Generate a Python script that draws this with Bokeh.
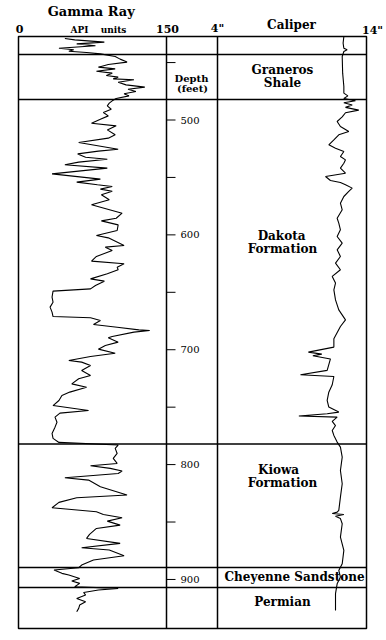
from bokeh.plotting import figure
from bokeh.models import Range1d, ColumnDataSource
from bokeh.core.properties import value
from bokeh.embed import file_html
from bokeh.resources import INLINE

# ---------------- data ----------------
gamma_depth = [429.0, 430.2, 432.2, 433.7, 435.4, 437.5, 438.9, 440.1, 441.2, 442.4,
               444.7, 447.0, 449.6, 451.7, 454.0, 455.5, 457.5, 459.2, 461.3, 462.7,
               464.2, 465.0, 467.1, 469.4, 471.4, 473.2, 475.2, 477.2, 479.0, 481.3,
               483.3, 485.3, 487.7, 490.6, 493.5, 496.4, 499.3, 502.8, 505.1, 508.6,
               512.9, 515.8, 519.6, 525.4, 527.1, 529.5, 532.4, 534.1, 536.7, 539.0,
               541.9, 546.9, 551.5, 554.1, 556.4, 557.9, 560.2, 562.0, 565.1, 569.5,
               573.8, 581.1, 585.5, 587.8, 591.3, 596.2, 600.6, 602.6, 609.3, 610.7,
               613.6, 618.8, 622.9, 625.2, 628.1, 630.4, 633.9, 638.3, 640.3, 644.1,
               647.0, 649.0, 654.2, 658.6, 662.9, 667.3, 671.1, 672.2, 674.6, 678.0,
               680.4, 682.7, 683.3, 684.7, 688.5, 689.6, 693.4, 696.3, 699.5, 703.0,
               705.9, 709.4, 710.8, 713.7, 718.1, 722.4, 725.3, 729.7, 732.6, 736.9,
               739.8, 744.2, 748.6, 752.9, 755.2, 758.7, 763.1, 767.4, 772.9, 777.2,
               780.7, 783.0, 785.9, 790.3, 794.6, 799.0, 801.0, 803.3, 805.6, 807.7,
               811.4, 813.5, 819.3, 826.5, 828.9, 832.9, 837.6, 841.1, 843.4, 846.3,
               849.2, 852.7, 855.6, 860.8, 864.3, 868.6, 872.4, 874.4, 879.4, 883.1,
               887.5, 889.8, 891.8, 894.7, 896.2, 899.1, 901.4, 903.4, 906.3, 907.8,
               909.2, 911.3, 913.6, 916.5, 919.4, 922.3, 925.2, 928.1]
gamma_api = [47, 57, 87, 59, 78, 41, 56, 51, 69, 83,
             98, 103, 110, 91, 81, 98, 79, 95, 89, 101,
             96, 117, 101, 109, 128, 111, 119, 107, 112, 99,
             95, 92, 90, 94, 86, 91, 83, 74, 99, 90,
             98, 91, 61, 101, 81, 60, 68, 90, 61, 47,
             90, 34, 83, 59, 80, 95, 83, 95, 84, 92,
             74, 105, 99, 84, 101, 100, 79, 91, 107, 88,
             95, 79, 74, 107, 100, 101, 90, 73, 87, 78,
             73, 35, 34, 35, 32, 34, 35, 73, 83, 76,
             100, 122, 133, 117, 95, 91, 101, 88, 81, 98,
             73, 51, 64, 73, 64, 73, 61, 54, 69, 52,
             44, 41, 35, 71, 42, 37, 39, 37, 34, 35,
             41, 101, 98, 100, 96, 100, 73, 93, 105, 101,
             47, 71, 83, 110, 59, 41, 34, 79, 86, 105,
             90, 103, 79, 72, 69, 103, 64, 92, 107, 76,
             64, 61, 36, 44, 51, 62, 54, 62, 57, 101,
             81, 66, 68, 59, 68, 62, 61, 59]

cal_depth = [427.3, 433.1, 437.5, 438.9, 440.4, 444.7, 459.2, 470.8, 476.6, 479.0,
             481.3, 483.3, 485.0, 487.0, 489.0, 491.4, 493.7, 497.3, 501.3, 505.7,
             510.0, 512.9, 517.3, 521.6, 524.5, 527.4, 531.8, 534.7, 537.6, 541.9,
             546.3, 549.2, 552.7, 554.4, 556.4, 559.3, 562.2, 566.6, 572.4, 578.2,
             585.5, 589.8, 595.6, 601.4, 607.2, 613.0, 618.8, 624.6, 630.4, 636.2,
             642.0, 647.9, 656.6, 665.3, 674.0, 679.8, 690.5, 697.7, 702.1, 703.8,
             705.3, 708.0, 718.0, 721.8, 723.3, 730.5, 737.0, 744.1, 749.9, 754.3,
             755.7, 757.7, 758.7, 762.4, 766.0, 770.3, 774.6, 780.4, 784.8, 793.5,
             805.1, 816.7, 828.3, 839.9, 841.4, 842.6, 843.4, 845.0, 847.0, 851.5,
             863.1, 874.7, 886.3, 892.1, 897.9, 903.8, 912.4, 918.0, 927.0]
cal_in = [12.48, 12.43, 12.48, 12.70, 12.48, 12.37, 12.40, 12.48, 12.48, 12.75,
          12.48, 13.26, 12.48, 13.04, 12.59, 13.48, 12.59, 12.37, 12.03, 12.25,
          12.81, 12.14, 11.81, 11.47, 11.92, 12.48, 12.25, 12.59, 12.48, 12.25,
          12.59, 11.25, 11.58, 12.25, 12.59, 13.04, 12.81, 12.48, 12.25, 12.37,
          12.03, 12.14, 12.25, 12.03, 12.37, 12.03, 12.25, 11.92, 12.25, 11.70,
          11.92, 11.81, 11.92, 12.14, 12.59, 12.25, 11.81, 11.81, 10.10, 11.00,
          10.40, 11.58, 11.36, 9.57, 11.81, 11.70, 11.47, 11.36, 11.47, 12.14,
          11.36, 9.46, 12.03, 11.70, 11.92, 11.70, 11.81, 12.03, 12.25, 12.37,
          12.25, 12.37, 12.25, 12.14, 12.03, 11.70, 12.48, 11.92, 12.25, 12.37,
          12.25, 12.48, 12.37, 12.14, 12.25, 12.03, 11.92, 11.92, 11.92]

depth_ticks = [450, 500, 550, 600, 650, 700, 750, 800, 850, 900]
depth_tick_labels = ["500", "600", "700", "800", "900"]
depth_label_values = [500, 600, 700, 800, 900]

formation_tops = [443.0, 482.2, 782.0, 889.5, 907.0]
formation_names = ["Graneros", "Shale", "Dakota", "Formation", "Kiowa", "Formation",
                   "Cheyenne Sandstone", "Permian"]
formation_label_depths = [456.9, 468.2, 601.4, 612.7, 805.1, 816.4, 898.2, 920.0]
formation_label_x = [8.36, 8.36, 8.30, 8.36, 8.10, 8.36, 9.17, 8.36]

# ---------------- layout ----------------
W, H = 384, 632                 # canvas (frame fills it)
BOX_L, BOX_R = 18, 366          # log box, page px
BOX_T, BOX_B = 36, 628
GR_PX = 148                     # width of gamma track (0..150 API)
CAL_L = 217                     # caliper track left edge (4")
D_TOP, D_BOT = 427.3, 942.7     # depths at box top / bottom
SERIF = "DejaVu Serif"

gpx = 150 / GR_PX                         # API per px
cpx = 10 / (BOX_R - CAL_L)                # inch per px
dpx = (D_BOT - D_TOP) / (BOX_B - BOX_T)   # ft per px

p = figure(width=W, height=H,
           x_range=Range1d(-BOX_L * gpx, (W - BOX_L) * gpx),
           y_range=Range1d(D_BOT + (H - BOX_B) * dpx, D_TOP - BOX_T * dpx),
           output_backend="svg", toolbar_location=None,
           x_axis_location=None, y_axis_location=None,
           min_border=0, min_border_left=0, min_border_right=0,
           min_border_top=0, min_border_bottom=0)
p.extra_x_ranges = {"cal": Range1d(4 - CAL_L * cpx, 14 + (W - BOX_R) * cpx)}
p.grid.visible = False
p.outline_line_color = None
p.background_fill_color = "white"
p.border_fill_color = "white"

RIGHT = (BOX_R - BOX_L) * gpx   # right edge of box in API units

# box
p.quad(left=[0], right=[RIGHT], top=[D_TOP], bottom=[D_BOT],
       fill_color=None, line_color="black", line_width=1.5)
# track dividers
p.segment(x0=[150], x1=[150], y0=[D_TOP], y1=[D_BOT], line_color="black", line_width=1.5)
p.segment(x0=[4], x1=[4], y0=[D_TOP], y1=[D_BOT], line_color="black", line_width=1.5,
          x_range_name="cal")
# formation boundaries
p.segment(x0=[0] * len(formation_tops), x1=[RIGHT] * len(formation_tops),
          y0=formation_tops, y1=formation_tops, line_color="black", line_width=1.5)

# curves
p.line(gamma_api, gamma_depth, line_color="black", line_width=1.1)
p.line(cal_in, cal_depth, line_color="black", line_width=1.1, x_range_name="cal")

# depth ticks
p.segment(x0=[150] * len(depth_ticks), x1=[150 + 9 * gpx] * len(depth_ticks),
          y0=depth_ticks, y1=depth_ticks, line_color="black", line_width=1)
p.text(x=[150 + 14 * gpx] * len(depth_label_values), y=depth_label_values,
       text=depth_tick_labels, text_font=value(SERIF), text_font_size="10px",
       text_align="left", text_baseline="middle", text_color="black")

# formation names
src = ColumnDataSource(dict(x=formation_label_x, y=formation_label_depths,
                            t=formation_names))
p.text(x="x", y="y", text="t", source=src, x_range_name="cal",
       text_font=value(SERIF), text_font_size="12px", text_font_style="bold",
       text_align="center", text_baseline="middle", text_color="black")


def lab(px_x, px_y, t, size, bold=True):
    """Place a caption at page pixel position using the gamma / depth scales."""
    p.text(x=[(px_x - BOX_L) * gpx], y=[D_TOP + (px_y - BOX_T) * dpx], text=[t],
           text_font=value(SERIF), text_font_size=size,
           text_font_style="bold" if bold else "normal",
           text_align="center", text_baseline="middle", text_color="black")


# depth track caption
lab(191, 78, "Depth", "10px")
lab(192, 88, "(feet)", "10px")

# headers
lab(93, 11, "Gamma  Ray", "13px")
lab(19, 28, "0", "11px")
lab(79, 29, "API", "9px")
lab(113, 29, "units", "9px")
lab(167, 28, "150", "11px")
lab(217, 28, '4"', "11px")
lab(291, 24, "Caliper", "12px")
lab(372, 30, '14"', "11px")

open("out.html", "w").write(file_html(p, INLINE))
